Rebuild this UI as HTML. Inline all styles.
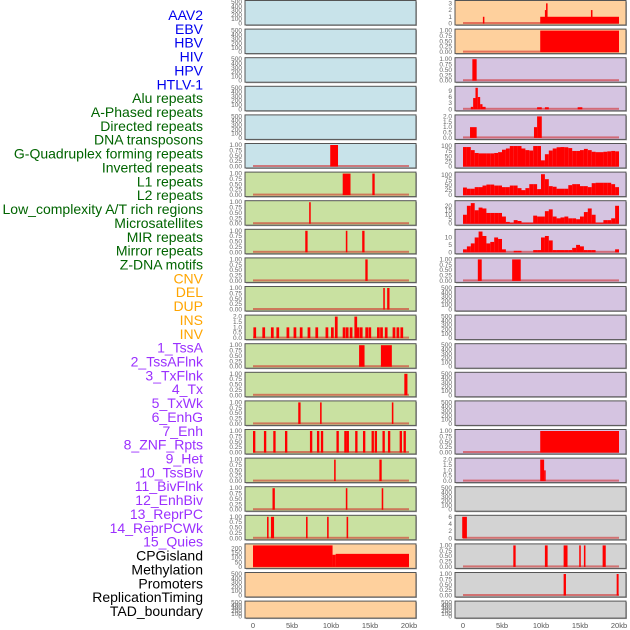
<!DOCTYPE html>
<html><head><meta charset="utf-8">
<style>
body{margin:0;background:#fff;width:630px;height:630px;overflow:hidden;font-family:"Liberation Sans",sans-serif}
svg{display:block}
</style></head>
<body>
<svg id="chart" width="630" height="630" xmlns="http://www.w3.org/2000/svg"></svg>
<script>
const trackLabels=["AAV2","EBV","HBV","HIV","HPV","HTLV-1","Alu repeats","A-Phased repeats","Directed repeats","DNA transposons","G-Quadruplex forming repeats","Inverted repeats","L1 repeats","L2 repeats","Low_complexity A/T rich regions","Microsatellites","MIR repeats","Mirror repeats","Z-DNA motifs","CNV","DEL","DUP","INS","INV","1_TssA","2_TssAFlnk","3_TxFlnk","4_Tx","5_TxWk","6_EnhG","7_Enh","8_ZNF_Rpts","9_Het","10_TssBiv","11_BivFlnk","12_EnhBiv","13_ReprPC","14_ReprPCWk","15_Quies","CPGisland","Methylation","Promoters","ReplicationTiming","TAD_boundary"];
const labelColors=["#0000ee","#006400","#ffa500","#9b30ff","#000000"];
const labelGroups=[6,13,5,15,5];
const xTickValues=[0,5,10,15,20];
const xTickText=["0","5kb","10kb","15kb","20kb"];
const gquadLeft=[[9.9,10.9,1]];
const l1Left=[[11.5,12.5,1],[15.3,15.6,1]];
const l2Left=[[7.2,7.4,1]];
const lowCompLeft=[[6.7,7.0,1],[11.9,12.1,1],[14.0,14.3,1]];
const microLeft=[[14.4,14.7,1]];
const mirLeft=[[16.7,16.9,1],[17.2,17.5,1]];
const mirrorStarts=[0.05,1.2,2.3,3.0,4.3,5.2,6.0,7.0,8.0,9.3,10.0,10.5,11.5,11.9,12.4,13.0,13.3,13.7,14.4,14.8,15.9,16.3,16.9,17.9,18.4,18.9];
const mirrorValues=[1,1,1,1,1,1,1,1,1,1,1,2,1,1,1,2,1,1,1,1,1,1,1,1,1,1];
const tssALeft=[[13.6,14.3,1],[16.4,17.8,1]];
const tssAFlnkLeft=[[19.4,19.8,1]];
const txFlnkLeft=[[5.8,6.1,1],[8.6,8.8,1],[17.8,18.0,1]];
const txStarts=[0,1.4,2.6,4.1,7.3,8.2,8.7,10.7,11.7,12.0,13.1,14.1,15.2,15.6,16.6,17.3,18.8,19.3];
const txWkLeft=[[10.4,10.6,1],[16.2,16.5,1]];
const enhGLeft=[[2.5,2.8,1],[11.9,12.1,1],[16.5,16.7,1]];
const enhLeft=[[1.8,2.0,1],[2.3,2.7,1],[6.8,7.0,1],[9.5,9.7,1],[12.0,12.2,1]];
const cpgLeft=[[0,10.2,234],[10.2,10.6,132],[10.6,20.0,142]];
const aav2Right=[[2.55,2.7,1],[9.9,20.0,1],[10.5,10.8,2],[10.65,10.75,3],[16.4,16.6,2]];
const ebvRight=[[9.9,20.0,1]];
const hbvRight=[[1.2,1.75,1]];
const aluRight=[[1.0,1.3,1.2],[1.3,1.6,5.5],[1.6,1.9,10.5],[1.9,2.2,6],[2.2,2.5,2.5],[2.5,2.9,1.2],[9.5,10.1,1],[10.5,11.0,1],[14.7,15.3,1]];
const directedRight=[[0.9,1.75,1],[9.1,9.5,1],[9.5,10.1,2]];
const gquadProfile=[95,95,80,66,64,64,64,64,66,70,82,88,100,100,100,88,80,78,100,100,30,60,78,88,94,95,94,90,76,76,80,86,80,72,70,70,72,74,76,74];
const l1Profile=[38,32,32,40,40,48,53,53,48,48,40,40,48,48,35,25,35,55,55,30,105,80,45,42,32,32,32,50,55,55,45,45,40,60,62,62,62,62,55,40];
const lowCompProfile=[10,20,23,15,18,17,12,12,12,12,8,2,1,4,3,1,1,1,9,8,8,14,16,8,6,7,8,6,6,5,8,13,17,10,1,1,4,4,6,20];
const mirProfile=[2,4,6,10,14,11,6,7,10,9,2,0,0,1,1,0,0,0,1.5,1.5,10,11,8,1.5,1.5,1.5,1.5,1.5,3,5,4,1.5,1.5,1.5,0,0,0,0,0,2];
const microRight=[[1.9,2.4,1],[6.3,7.4,1]];
const txRight=[[9.9,20.0,1]];
const txWkRight=[[9.9,10.4,2],[10.4,10.6,1]];
const bivRight=[[-0.1,0.5,6]];
const cpgRight=[[6.45,6.75,1],[10.5,10.85,1],[12.9,13.4,1],[14.9,15.1,1],[15.5,15.7,1],[17.9,18.3,1]];
const methRight=[[12.9,13.2,1],[19.7,19.95,1]];

const NS="http://www.w3.org/2000/svg";
const svg=document.getElementById('chart');
function mk(tag,attrs,parent){const e=document.createElementNS(NS,tag);for(const k in attrs)e.setAttribute(k,attrs[k]);(parent||svg).appendChild(e);return e;}
const BLUE="#c8e3ea",GREEN="#c9e1a1",PEACH="#fed09d",LAV="#d5c4e1",GREY="#d3d3d3";
const colX=[245,455];
const panelW=171;
function xScale(col,kb){return colX[col]+8+kb*7.8;}
const emptyTicks=[0,100,200,300,400,500];
function toIntervals(starts,vals,w){return starts.map((s,i)=>[s,s+w,vals?vals[i]:1]);}
function profileIntervals(p){return p.map((v,i)=>[i*0.5,i*0.5+0.5,v]);}
const rows=[
 [{bg:BLUE},{bg:PEACH,d:aav2Right,ticks:[0,1,2,3],vmax:3.2,fmt:0}],
 [{bg:BLUE},{bg:PEACH,d:ebvRight,ticks:[0,0.25,0.5,0.75,1],vmax:1,fmt:2}],
 [{bg:BLUE},{bg:LAV,d:hbvRight,ticks:[0,0.25,0.5,0.75,1],vmax:1,fmt:2}],
 [{bg:BLUE},{bg:LAV,d:aluRight,ticks:[0,3,6,9],vmax:10.5,fmt:0}],
 [{bg:BLUE},{bg:LAV,d:directedRight,ticks:[0,0.5,1,1.5,2],vmax:2,fmt:1}],
 [{bg:BLUE,d:gquadLeft,ticks:[0,0.25,0.5,0.75,1],vmax:1,fmt:2},{bg:LAV,d:profileIntervals(gquadProfile),ticks:[0,25,50,75,100],vmax:105,fmt:0}],
 [{bg:GREEN,d:l1Left,ticks:[0,0.25,0.5,0.75,1],vmax:1,fmt:2},{bg:LAV,d:profileIntervals(l1Profile),ticks:[0,25,50,75,100],vmax:108,fmt:0}],
 [{bg:GREEN,d:l2Left,ticks:[0,0.25,0.5,0.75,1],vmax:1,fmt:2},{bg:LAV,d:profileIntervals(lowCompProfile),ticks:[0,5,10,15,20],vmax:24,fmt:0}],
 [{bg:GREEN,d:lowCompLeft,ticks:[0,0.25,0.5,0.75,1],vmax:1,fmt:2},{bg:LAV,d:profileIntervals(mirProfile),ticks:[0,5,10],vmax:14.5,fmt:0}],
 [{bg:GREEN,d:microLeft,ticks:[0,0.25,0.5,0.75,1],vmax:1,fmt:2},{bg:LAV,d:microRight,ticks:[0,0.25,0.5,0.75,1],vmax:1,fmt:2}],
 [{bg:GREEN,d:mirLeft,ticks:[0,0.25,0.5,0.75,1],vmax:1,fmt:2},{bg:LAV}],
 [{bg:GREEN,d:toIntervals(mirrorStarts,mirrorValues,0.35),ticks:[0,0.5,1,1.5,2],vmax:2,fmt:1},{bg:LAV}],
 [{bg:GREEN,d:tssALeft,ticks:[0,0.25,0.5,0.75,1],vmax:1,fmt:2},{bg:LAV}],
 [{bg:GREEN,d:tssAFlnkLeft,ticks:[0,0.25,0.5,0.75,1],vmax:1,fmt:2},{bg:LAV}],
 [{bg:GREEN,d:txFlnkLeft,ticks:[0,0.25,0.5,0.75,1],vmax:1,fmt:2},{bg:LAV}],
 [{bg:GREEN,d:toIntervals(txStarts,null,0.3),ticks:[0,0.25,0.5,0.75,1],vmax:1,fmt:2},{bg:LAV,d:txRight,ticks:[0,0.25,0.5,0.75,1],vmax:1,fmt:2}],
 [{bg:GREEN,d:txWkLeft,ticks:[0,0.25,0.5,0.75,1],vmax:1,fmt:2},{bg:LAV,d:txWkRight,ticks:[0,0.5,1,1.5,2],vmax:2,fmt:1}],
 [{bg:GREEN,d:enhGLeft,ticks:[0,0.25,0.5,0.75,1],vmax:1,fmt:2},{bg:GREY}],
 [{bg:GREEN,d:enhLeft,ticks:[0,0.25,0.5,0.75,1],vmax:1,fmt:2},{bg:GREY,d:bivRight,ticks:[0,2,4,6],vmax:6,fmt:0}],
 [{bg:PEACH,d:cpgLeft,ticks:[0,50,100,150,200],vmax:234,fmt:0},{bg:GREY,d:cpgRight,ticks:[0,0.25,0.5,0.75,1],vmax:1,fmt:2}],
 [{bg:PEACH},{bg:GREY,d:methRight,ticks:[0,0.25,0.5,0.75,1],vmax:1,fmt:2}],
 [{bg:PEACH},{bg:GREY}]
];
rows.forEach((row,i)=>{
  const top=0.5+i*28.6, H=(i===21)?17:24.5;
  row.forEach((p,col)=>{
    const g=mk('g',{});
    
    
    const x0=colX[col];
    mk('rect',{x:x0+1,y:top+1,width:panelW,height:H,fill:'#aaa'},g);
    mk('rect',{x:x0,y:top,width:panelW,height:H,fill:p.bg,stroke:'#555','stroke-width':1},g);
    const bottom=top+H-1.5, usable=H-3;
    const ticks=p.d?p.ticks:emptyTicks;
    const vmax=p.d?p.vmax:500;
    const yS=v=>bottom-v/vmax*usable;
    ticks.forEach(t=>{
      const tx=mk('text',{x:x0-3,y:yS(t)+2,'font-size':'6.5','text-anchor':'end',fill:'#666'},g);
      
      
      tx.textContent=p.d?t.toFixed(p.fmt):String(t);
    });
    if(p.d){
      mk('rect',{x:xScale(col,0),y:bottom-1.5,width:xScale(col,20)-xScale(col,0),height:2,fill:'#d02020',opacity:0.55},g);
      p.d.forEach(iv=>{
        if(iv[2]<=0)return;
        const r=mk('rect',{x:xScale(col,iv[0]),y:yS(iv[2]),width:Math.max(1.5,xScale(col,iv[1])-xScale(col,iv[0])),height:bottom-yS(iv[2]),fill:'#ff0000'},g);
        
        
      });
    }
  });
});
let idx=0;
labelGroups.forEach((n,gi)=>{for(let k=0;k<n;k++){
  const t=mk('text',{x:203,y:15+idx*13.86+5,'font-size':'14','text-anchor':'end',fill:labelColors[gi]});
  
  
  t.textContent=trackLabels[idx];idx++;}});
[0,1].forEach(col=>{xTickValues.forEach((v,j)=>{
  const t=mk('text',{x:xScale(col,v),y:628,'font-size':'7.5','text-anchor':'middle',fill:'#555'});
  
  
  t.textContent=xTickText[j];});});
</script>
</body></html>
